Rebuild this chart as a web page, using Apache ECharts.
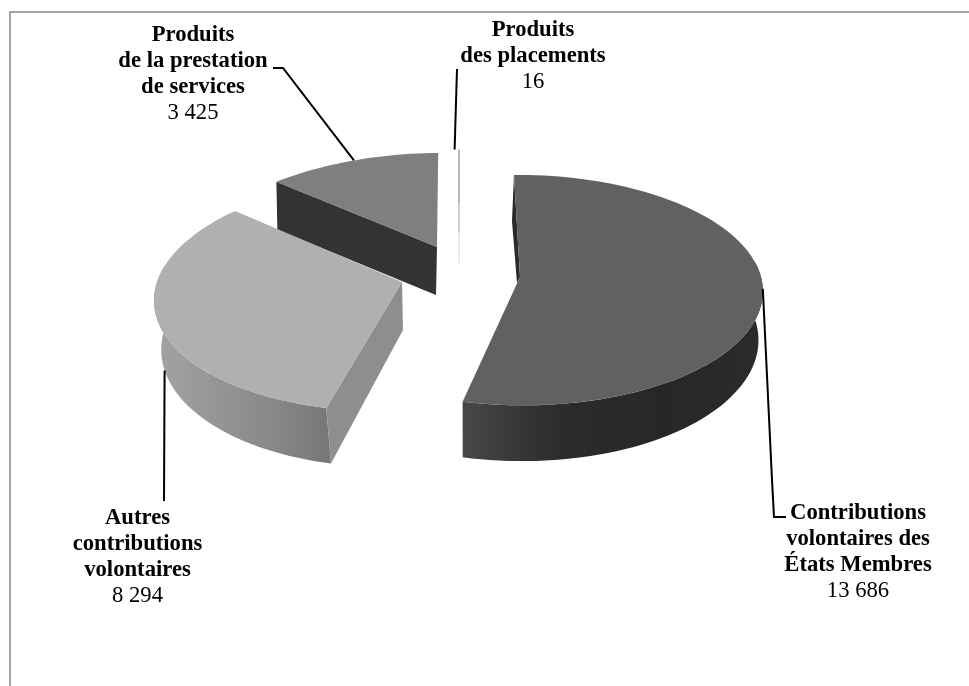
<!DOCTYPE html>
<html>
<head>
<meta charset="utf-8">
<style>html,body{margin:0;padding:0;background:#fff}#chart{width:969px;height:686px}</style>
<script src="https://cdn.jsdelivr.net/npm/echarts@6/dist/echarts.min.js"></script>
</head>
<body>
<div id="chart"></div>
<script>
// Revenue categories, in clockwise order from the top of the pie
const categories = [
  'Contributions\nvolontaires des\nÉtats Membres',
  'Autres\ncontributions\nvolontaires',
  'Produits\nde la prestation\nde services',
  'Produits\ndes placements'
];
const values = [13686, 8294, 3425, 16];

const firstSliceAngle = -1;
const serif = '"Liberation Serif", "Times New Roman", serif';

// Per-slice projection of the tilted disc: apex position, radii, perspective
const projection = [
  { ax: 520, ay: 277, rx: 241, ry: 113.7, k: 0.114, sh: 2.5, h: 48, rimDx: 0 },
  { ax: 402, ay: 282, rx: 245, ry: 116.9, k: 0.098, sh: -14.5, h: 48, rimDx: 2.5 },
  { ax: 437, ay: 247, rx: 248, ry: 116, k: 0.233, sh: -6.8, h: 48, rimDx: 0 },
  { ax: 459, ay: 215, rx: 248, ry: 72, k: 0.1, sh: 0, h: 48, rimDx: 0 }
];
const shades = [
  { top: '#616161', rim: ['#474747', '#2b2b2b', '#272727', '#2b2b2b'] },
  { top: '#b0b0b0', rim: ['#a3a3a3', '#969696', '#888888', '#767676'], cut: '#8e8e8e' },
  { top: '#7f7f7f', rim: ['#333333', '#333333', '#333333', '#333333'], cut: '#333333' },
  { top: '#a9a9a9', rim: ['#e4e4e4', '#e4e4e4', '#e4e4e4', '#e4e4e4'] }
];
// Paint order: the back slices first so the nearer ones overlap them
const paintOrder = [3, 1, 0, 2];

// Leader lines run from the slice's mid angle through these elbows to the label
const leaders = [
  { rim: false, via: [[772, 480], [774, 517], [786, 517]] },
  { rim: true, via: [[164, 501]] },
  { rim: false, via: [[283, 68], [273, 68]] },
  { rim: false, via: [[457, 69]] }
];
const labelSpots = [
  { x: 858, y: 500 },
  { x: 137.5, y: 505 },
  { x: 193, y: 22 },
  { x: 533, y: 17 }
];

const total = values.reduce((a, b) => a + b, 0);
const starts = [];
values.reduce((acc, v, i) => { starts[i] = acc; return acc + v / total * 360; }, firstSliceAngle);

const RIM_SHRINK = 0.985, RIM_VX = 470, RIM_K = 0.14;

function topPoint(p, deg) {
  const t = deg * Math.PI / 180;
  const u = Math.sin(t), v = -Math.cos(t);
  const w = 1 / (1 - p.k * v);
  return [p.ax + (p.rx * u + p.sh * v) * w, p.ay + p.ry * v * w];
}
function lowPoint(p, deg) {
  const q = topPoint(p, deg);
  const v = -Math.cos(deg * Math.PI / 180);
  return [RIM_VX + (q[0] - RIM_VX) * RIM_SHRINK + p.rimDx, q[1] + p.h / (1 - RIM_K * v)];
}
function arc(fn, p, a, b) {
  const n = Math.max(2, Math.ceil(Math.abs(b - a) / 2));
  const pts = [];
  for (let i = 0; i <= n; i++) pts.push(fn(p, a + (b - a) * i / n));
  return pts;
}
function poly(points, fill, z2) {
  return { type: 'polygon', z2, shape: { points }, style: { fill } };
}
function formatValue(v) {
  return String(v).replace(/\B(?=(\d{3})+$)/g, ' ');
}

function renderSlice(params, api) {
  const i = params.dataIndex;
  const value = api.value(0);
  const p = projection[i], c = shades[i];
  const a = starts[i], b = a + value / total * 360, mid = (a + b) / 2;
  const base = paintOrder[i] * 10;
  const kids = [];

  // Outer rim: only the part of the arc that faces the viewer
  const ra = Math.max(a, 82), rb = Math.min(b, 278);
  if (rb > ra) {
    const up = arc(topPoint, p, ra, rb), low = arc(lowPoint, p, ra, rb).reverse();
    const pts = up.concat(low);
    const xs = pts.map(q => q[0]);
    const x0 = Math.min(...xs), x1 = Math.max(...xs);
    // Gradient runs left to right across the visible rim
    kids.push(poly(pts, {
      type: 'linear', x: x0, y: 0, x2: x1, y2: 0, global: true,
      colorStops: c.rim.map((color, n) => ({ offset: n / (c.rim.length - 1), color }))
    }, base));
  }

  if (i === 1) {
    // Cut face along the slice's first edge
    kids.push(poly([[p.ax, p.ay], topPoint(p, a), lowPoint(p, a), [p.ax + 1, p.ay + p.h]], c.cut, base + 1));
  }
  if (i === 2) {
    // Cut face along the slice's first edge
    const t = topPoint(p, a);
    kids.push(poly([t, [p.ax, p.ay], [p.ax - 1, p.ay + p.h], [t[0] + 1, t[1] + p.h]], c.cut, base + 1));
  }
  if (i === 0) {
    // Sliver of the inner wall showing beside the first edge
    const t = topPoint(p, a);
    kids.push(poly([t, [t[0] - 2, t[1] + 46], [p.ax - 3, p.ay + 6], [p.ax, p.ay]], '#2a2a2a', base + 1));
  }

  if (i === 3) {
    // The smallest slice is a hairline: top face then side wall fade out downwards
    const t = topPoint(p, mid);
    kids.push({
      type: 'line', z2: base + 2,
      shape: { x1: p.ax, y1: t[1], x2: p.ax, y2: p.ay + p.h },
      style: {
        lineWidth: 1.6,
        stroke: {
          type: 'linear', x: 0, y: t[1], x2: 0, y2: p.ay + p.h, global: true,
          colorStops: [
            { offset: 0, color: '#a6a6a6' }, { offset: 0.46, color: '#a6a6a6' },
            { offset: 0.47, color: '#c4c4c4' }, { offset: 0.73, color: '#c4c4c4' },
            { offset: 0.74, color: '#e6e6e6' }, { offset: 1, color: '#e6e6e6' }
          ]
        }
      }
    });
  } else {
    // Top face
    kids.push(poly([[p.ax, p.ay]].concat(arc(topPoint, p, a, b)), c.top, base + 2));
  }

  // Leader line
  const link = leaders[i];
  const anchor = (link.rim ? lowPoint : topPoint)(p, mid);
  kids.push({
    type: 'polyline', z2: 100,
    shape: { points: [anchor].concat(link.via) },
    style: { fill: null, stroke: '#000', lineWidth: 2 }
  });

  // Label
  const lines = categories[i].split('\n').map(s => '{n|' + s + '}');
  lines.push('{v|' + formatValue(value) + '}');
  const spot = labelSpots[i];
  kids.push({
    type: 'text', z2: 101,
    style: {
      x: spot.x, y: spot.y, align: 'center', verticalAlign: 'top',
      text: lines.join('\n'),
      rich: {
        n: { fontFamily: serif, fontWeight: 'bold', fontSize: 22.67, lineHeight: 26, fill: '#000', align: 'center' },
        v: { fontFamily: serif, fontSize: 22.67, lineHeight: 26, fill: '#000', align: 'center' }
      }
    }
  });

  return { type: 'group', children: kids };
}

const chart = echarts.init(document.getElementById('chart'), null, { renderer: 'canvas' });
chart.setOption({
  backgroundColor: '#fff',
  animation: false,
  graphic: [{
    type: 'polyline', silent: true,
    shape: { points: [[10, 686], [10, 12], [969, 12]] },
    style: { fill: null, stroke: '#868686', lineWidth: 1.5 }
  }],
  series: [{
    type: 'custom',
    coordinateSystem: 'none',
    data: values.map(v => [v]),
    renderItem: renderSlice
  }]
});
</script>
</body>
</html>
